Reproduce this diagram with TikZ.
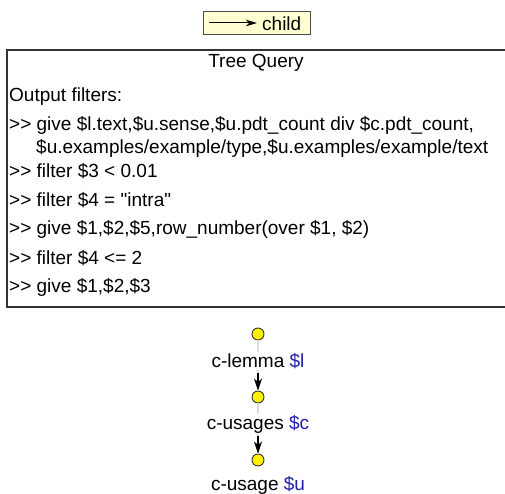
\documentclass[tikz,border=0pt]{standalone}
\usepackage{fontspec}
\setmainfont{Liberation Sans}[Ligatures=TeXOff]
\usetikzlibrary{arrows.meta}
\definecolor{legendfill}{HTML}{FFFFD2}
\definecolor{varblue}{HTML}{1F1FA8}
\definecolor{edgegray}{HTML}{DEDEDE}
\tikzset{
  txt/.style={inner sep=0pt, anchor=west, font=\fontsize{19}{22}\selectfont},
  vertex/.style={circle, draw=black!80, fill=yellow, line width=0.9pt, minimum size=12pt, inner sep=0pt},
  vlabel/.style={fill=white, inner sep=1pt, font=\fontsize{19}{22}\selectfont},
  childarrow/.style={-{Stealth[length=12pt,width=8pt,inset=3.5pt]}, line width=2pt},
}
\begin{document}
\begin{tikzpicture}[x=1pt,y=-1pt]
\useasboundingbox (0,0) rectangle (505,494);

% legend
\node[draw=black!70, fill=legendfill, line width=1pt, minimum width=107pt, minimum height=23pt, inner sep=0pt] (legend) at (256.5,23) {};
\coordinate (la) at (209,23);
\coordinate (lb) at (257,23);
\draw[-{Stealth[length=11pt,width=6.5pt,inset=3pt]}, line width=1pt] (la) -- (lb);
\node[txt] (childtxt) at (262,23.5) {child};

% query box (open on the right)
\coordinate (tl) at (7,50);
\coordinate (tr) at (506,50);
\coordinate (bl) at (7,307);
\coordinate (br) at (506,307);
\draw[black!80, line width=1.2pt] (tr) -- (tl) -- (bl) -- (br);

\node[txt, anchor=center] (title) at (256,63) {Tree Query};
\node[txt] (l0) at (9,97) {Output filters:};
\node[txt] (l1) at (9,125) {>> give \$l.text,\$u.sense,\$u.pdt\_count div \$c.pdt\_count,};
\node[txt] (l1b) at (36,148) {\$u.examples/example/type,\$u.examples/example/text};
\node[txt] (l2) at (9,171) {>> filter \$3 < 0.01};
\node[txt] (l3) at (9,200) {>> filter \$4 = "intra"};
\node[txt] (l4) at (9,229) {>> give \$1,\$2,\$5,row\_number(over \$1, \$2)};
\node[txt] (l5) at (9,258) {>> filter \$4 <= 2};
\node[txt] (l6) at (9,287) {>> give \$1,\$2,\$3};

% tree
\node[vertex] (v1) at (258,334) {};
\node[vertex] (v2) at (258,397) {};
\node[vertex] (v3) at (258,460) {};
\draw[edgegray, line width=2.2pt] (v1) -- (v2);
\draw[edgegray, line width=2.2pt] (v2) -- (v3);
\node[vlabel] (n1) at (258,361) {c-lemma \textcolor{varblue}{\$l}};
\node[vlabel] (n2) at (258,424) {c-usages \textcolor{varblue}{\$c}};
\node[vlabel] (n3) at (258,485) {c-usage \textcolor{varblue}{\$u}};
\coordinate (a1) at (258,373);
\coordinate (a2) at (258,436);
\draw[childarrow] (a1) -- (v2);
\draw[childarrow] (a2) -- (v3);
\end{tikzpicture}
\end{document}
